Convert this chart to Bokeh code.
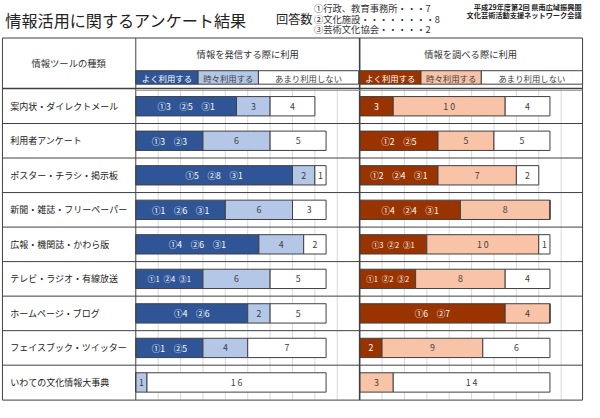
import numpy as np
from bokeh.plotting import figure
from bokeh.models import Range1d, ColumnDataSource
from bokeh.core.properties import value
from bokeh.embed import file_html
from bokeh.resources import INLINE

# ---------------- data ----------------
tools = ["案内状・ダイレクトメール", "利用者アンケート", "ポスター・チラシ・掲示板",
         "新聞・雑誌・フリーペーパー", "広報・機関誌・かわら版", "テレビ・ラジオ・有線放送",
         "ホームページ・ブログ", "フェイスブック・ツイッター", "いわての文化情報大事典"]
levels = ["よく利用する", "時々利用する", "あまり利用しない"]
panels = ["情報を発信する際に利用", "情報を調べる際に利用"]
group_marks = ["①", "②", "③"]
respondents = ["①行政、教育事務所・・・7", "②文化施設・・・・・・・・8", "③芸術文化協会・・・・・2"]

# 発信 (send)
send_g1 = [3, 3, 5, 1, 4, 1, 4, 1, 0]
send_g2 = [5, 3, 8, 6, 6, 4, 6, 5, 0]
send_g3 = [1, 0, 1, 1, 1, 1, 0, 0, 0]
send_sometimes = [3, 6, 2, 6, 4, 6, 2, 4, 1]
send_rarely = [4, 5, 1, 3, 2, 5, 5, 7, 16]

# 調べる (search)
search_often = [3, 7, 7, 9, 6, 5, 13, 2, 0]
search_g1 = [None, 2, 2, 4, 3, 1, 6, None, None]
search_g2 = [None, 5, 4, 4, 2, 2, 7, None, None]
search_g3 = [None, 0, 1, 1, 1, 2, 0, None, None]
search_sometimes = [10, 5, 7, 8, 10, 8, 4, 9, 3]
search_rarely = [4, 5, 2, 0, 1, 4, 0, 6, 14]

grid_ticks = list(range(2, 20, 2))

# ---------------- styling ----------------
FONT = "Noto Sans CJK JP"
W, H = 600, 418          # reference pixel space
S = 584 / 600.0          # page scale
U = 11.5                 # px per respondent in reference
RH = 35.9                # row height in reference
ROW_TOP = 92
SEND_X0, SEARCH_X0 = 139, 369
LINE = "#404040"
GRID = "#D9D9D9"
send_colors = ["#2F5597", "#B4C7E7", "#FFFFFF"]
search_colors = ["#993300", "#F8C3A6", "#FFFFFF"]


def fs(px):
    return value(f"{px * S:.1f}px")


p = figure(width=584, height=402, x_range=Range1d(0, W), y_range=Range1d(H, 0),
           x_axis_type=None, y_axis_type=None, output_backend="svg",
           toolbar_location=None, min_border=0, outline_line_color=None,
           background_fill_color="white", border_fill_color="white")
p.grid.visible = False
p.extra_x_ranges = {
    "send": Range1d((0 - SEND_X0) / U, (W - SEND_X0) / U),
    "search": Range1d((0 - SEARCH_X0) / U, (W - SEARCH_X0) / U),
}
p.extra_y_ranges = {"rows": Range1d((H - ROW_TOP) / RH - 0.5, (0 - ROW_TOP) / RH - 0.5)}

idx = list(range(len(tools)))

# ---------------- grid lines in panels ----------------
for rname in ["send", "search"]:
    p.segment(x0=grid_ticks, x1=grid_ticks, y0=[-0.5] * len(grid_ticks), y1=[len(tools) - 0.5] * len(grid_ticks),
              x_range_name=rname, y_range_name="rows", line_color=GRID, line_width=1)


def dark_label(total, g1, g2, g3):
    if g1 is None:
        return str(total), 9
    items = [f"{m}{n}" for m, n in zip(group_marks, (g1, g2, g3)) if n > 0]
    if total >= 7 or len(items) <= 2:
        return "\u3000".join(items), 8.8
    return "\u2002".join(items), 7.8


def num_label(v):
    return " ".join(str(v)) if v >= 10 else str(v)


def draw_panel(rname, often, sometimes, rarely, g1, g2, g3, colors):
    src = ColumnDataSource(dict(idx=idx, often=often, sometimes=sometimes, rarely=rarely))
    p.hbar_stack(["often", "sometimes", "rarely"], y="idx", height=0.56, source=src,
                 fill_color=colors, line_color=LINE, line_width=1,
                 x_range_name=rname, y_range_name="rows")
    often_a = np.array(often, dtype=float)
    some_a = np.array(sometimes, dtype=float)
    rare_a = np.array(rarely, dtype=float)
    xs, ys, txt, col, size = [], [], [], [], []
    for i in idx:
        if often[i] > 0:
            t, sz = dark_label(often[i], g1[i], g2[i], g3[i])
            xs.append(often_a[i] / 2); ys.append(i); txt.append(t); col.append("white"); size.append(f"{sz * S:.1f}px")
        if sometimes[i] > 0:
            xs.append(often_a[i] + some_a[i] / 2); ys.append(i); txt.append(num_label(sometimes[i]))
            col.append("#404040"); size.append(f"{9 * S:.1f}px")
        if rarely[i] > 0:
            xs.append(often_a[i] + some_a[i] + rare_a[i] / 2); ys.append(i); txt.append(num_label(rarely[i]))
            col.append("#404040"); size.append(f"{9 * S:.1f}px")
    tsrc = ColumnDataSource(dict(x=xs, y=ys, text=txt, color=col, size=size))
    p.text(x="x", y="y", text="text", source=tsrc, text_color="color", text_font_size="size",
           text_align="center", text_baseline="middle", text_font=value(FONT),
           x_range_name=rname, y_range_name="rows")


send_often = [a + b + c for a, b, c in zip(send_g1, send_g2, send_g3)]
draw_panel("send", send_often, send_sometimes, send_rarely, send_g1, send_g2, send_g3, send_colors)
draw_panel("search", search_often, search_sometimes, search_rarely, search_g1, search_g2, search_g3, search_colors)

# ---------------- table lines ----------------
sep_y = [i + 0.5 for i in range(len(tools) - 1)]
p.segment(x0=[2] * len(sep_y), x1=[598] * len(sep_y), y0=sep_y, y1=sep_y,
          y_range_name="rows", line_color=LINE, line_width=1)
# outer frame and main dividers (reference pixel space)
p.segment(x0=[2, 2, 2, 598, 139, 369, 2], x1=[598, 598, 2, 598, 139, 369, 598],
          y0=[39, 415.5, 39, 39, 39, 39, 91.5], y1=[39, 415.5, 415.5, 415.5, 415.5, 415.5, 91.5],
          line_color=LINE, line_width=[1, 1, 1, 1, 1, 1.6, 1.3])
p.segment(x0=[139], x1=[598], y0=[93.5], y1=[93.5], line_color="#9A9A9A", line_width=1)

# legend header boxes
box_l = [139, 203, 265, 369, 432, 494]
box_r = [203, 265, 368, 432, 494, 598]
box_fill = send_colors + search_colors
box_text_col = ["white", "#404040", "#404040", "white", "#404040", "#404040"]
p.quad(left=box_l, right=box_r, top=[73] * 6, bottom=[87] * 6, fill_color=box_fill,
       line_color=LINE, line_width=1)
p.text(x=[(a + b) / 2 for a, b in zip(box_l, box_r)], y=[80.5] * 6, text=levels * 2,
       text_color=box_text_col, text_font_size=fs(8.6), text_align="center",
       text_baseline="middle", text_font=value(FONT))

# header texts
p.text(x=[70, 254, 483], y=[65.5, 55.5, 55.5], text=["情報ツールの種類"] + panels,
       text_color="#333333", text_font_size=fs(9.6), text_align="center",
       text_baseline="middle", text_font=value(FONT))

# row labels
p.text(x=[10] * len(tools), y=idx, text=tools, y_range_name="rows",
       text_color="#222222", text_font_size=fs(9.2), text_align="left",
       text_baseline="middle", text_font=value(FONT))

# title block
p.text(x=[5], y=[20], text=["情報活用に関するアンケート結果"], text_color="#222222",
       text_font_size=fs(16.5), text_align="left", text_baseline="middle", text_font=value(FONT))
p.text(x=[283], y=[19.5], text=["回答数"], text_color="#222222",
       text_font_size=fs(12.5), text_align="left", text_baseline="middle", text_font=value(FONT))
p.text(x=[322] * 3, y=[8, 19, 30], text=respondents, text_color="#333333",
       text_font_size=fs(9.6), text_align="left", text_baseline="middle", text_font=value(FONT))
p.text(x=[597, 597], y=[6.5, 15.5], text=["平成29年度第2回 県南広域振興圏", "文化芸術活動支援ネットワーク会議"],
       text_color="#222222", text_font_size=fs(7.4), text_align="right", text_baseline="middle",
       text_font=value(FONT), text_font_style="bold")

open("out.html", "w").write(file_html(p, INLINE))
